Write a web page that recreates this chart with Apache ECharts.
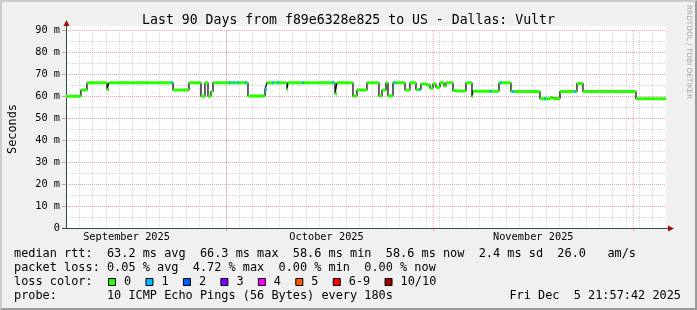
<!DOCTYPE html>
<html>
<head>
<meta charset="utf-8">
<script src="https://cdn.jsdelivr.net/npm/echarts@6/dist/echarts.min.js"></script>
<style>
html,body{margin:0;padding:0;background:#f0f0f0;}
#wrap{position:relative;width:697px;height:310px;}
#chart{position:absolute;left:0;top:0;width:697px;height:310px;}
#frame{position:absolute;left:0;top:0;width:697px;height:310px;box-sizing:border-box;
  border-top:2px solid #cbcbcb;border-left:2px solid #cbcbcb;border-right:2px solid #999;border-bottom:2px solid #999;pointer-events:none;}
</style>
</head>
<body>
<div id="wrap"><div id="chart"></div><div id="frame"></div></div>
<script>
// ---- data ----
const chartTitle = 'Last 90 Days from f89e6328e825 to US - Dallas: Vultr';
const rangeStart = '2025-09-06 21:57:42';
const rangeEnd = '2025-12-05 21:57:42';
// start time of each median-RTT step (local time)
const stepTimes = ['2025-09-06 21:58','2025-09-09 03:36','2025-09-10 01:26','2025-09-13 01:26','2025-09-13 08:36',
 '2025-09-22 23:16','2025-09-25 08:36','2025-09-27 03:46','2025-09-27 18:16','2025-09-28 05:06',
 '2025-09-28 15:46','2025-09-28 23:06','2025-10-04 05:06','2025-10-06 18:16','2025-10-07 01:26',
 '2025-10-10 01:26','2025-10-10 05:06','2025-10-17 06:16','2025-10-17 13:26','2025-10-19 23:06',
 '2025-10-20 13:26','2025-10-22 01:26','2025-10-23 20:36','2025-10-24 07:26','2025-10-24 21:51',
 '2025-10-25 05:06','2025-10-25 23:06','2025-10-27 18:16','2025-10-28 12:16','2025-10-29 09:51',
 '2025-10-30 03:51','2025-10-30 21:51','2025-10-31 12:16','2025-10-31 23:06','2025-11-01 09:51',
 '2025-11-02 00:16','2025-11-02 14:36','2025-11-02 21:51','2025-11-03 23:06','2025-11-04 09:51',
 '2025-11-05 21:51','2025-11-06 19:26','2025-11-06 23:06','2025-11-10 20:36','2025-11-12 15:51',
 '2025-11-17 00:16','2025-11-18 12:16','2025-11-18 23:06','2025-11-20 00:16','2025-11-22 13:26',
 '2025-11-23 11:01','2025-12-01 09:51'];
// median RTT of each step, milliseconds
const medianRtt = [59.9,62.7,66.0,63.0,66.0, 62.7,66.0,59.9,66.0,59.9, 62.0,66.0,60.0,63.0,66.0,
 63.0,66.0,61.0,66.0,60.0, 62.7,66.0,60.0,62.7,66.0, 60.0,66.0,62.7,66.0,63.0,
 65.5,65.0,63.5,65.5,64.0, 66.0,64.5,66.0,62.5,62.3, 66.0,59.7,62.2,66.0,62.1,
 58.8,59.3,58.8,62.0,65.7, 62.0,58.8];
// short moments with 1/10 packets lost
const loss1Times = ['2025-09-22 19:36','2025-10-01 12:16','2025-10-02 02:36','2025-10-02 17:06','2025-10-03 21:36',
 '2025-10-06 21:36','2025-10-07 22:36','2025-10-08 17:36','2025-10-12 12:36','2025-10-16 22:36',
 '2025-10-26 06:06','2025-10-30 00:16','2025-11-09 15:36','2025-11-11 03:36','2025-11-12 22:36',
 '2025-11-17 18:06','2025-11-22 06:06'];
const monthStarts = ['2025-10-01 00:00','2025-11-01 00:00','2025-12-01 00:00'];
const monthLabelAt = ['2025-09-16 00:00','2025-10-16 00:00','2025-11-16 00:00'];
const monthLabels = ['September 2025','October 2025','November 2025'];
const yRange = [0, 90];
const legendLines = [
 'median rtt:  63.2 ms avg  66.3 ms max  58.6 ms min  58.6 ms now  2.4 ms sd  26.0   am/s',
 'packet loss: 0.05 % avg  4.72 % max  0.00 % min  0.00 % now',
 'loss color:',
 'probe:       10 ICMP Echo Pings (56 Bytes) every 180s'
];
const lossLabels = ['0','1','2','3','4','5','6-9','10/10'];
const lossColors = ['#26ff00','#00b8ff','#0059ff','#7e00ff','#ff00ff','#ff5500','#ff0000','#a10000'];
const dateStamp = 'Fri Dec  5 21:57:42 2025';
const watermark = 'RRDTOOL / TOBI OETIKER';

// ---- build ----
const DAY = 86400000;
const ms = s => new Date(s.replace(' ', 'T')).getTime();
const T0 = ms(rangeStart), T1 = ms(rangeEnd);
const T = stepTimes.map(ms);
const ends = T.slice(1).concat([T1]);
const blackData = T.map((t,i)=>[t, medianRtt[i]]).concat([[T1, medianRtt[medianRtt.length-1]]]);
const greenData = [];
T.forEach((t,i)=>{ greenData.push([t, medianRtt[i]],[ends[i], medianRtt[i]],[ends[i],'-']); });
const valueAt = t => { let v = medianRtt[0]; T.forEach((s,i)=>{ if (s <= t) v = medianRtt[i]; }); return v; };
const blueData = [];
loss1Times.map(ms).forEach(t=>{ const v = valueAt(t); blueData.push([t-3*3600000, v],[t+3*3600000, v],[t+3*3600000,'-']); });
const labelVals = monthLabelAt.map(ms);
const monthGridData = [];
monthStarts.map(ms).forEach(t=>{ monthGridData.push([t, yRange[0]],[t, yRange[1]],[t,'-']); });

const MONO = '"DejaVu Sans Mono", monospace';
const MGRID = 'rgba(215,90,90,0.55)';
const GRID = 'rgba(160,160,160,0.45)';
const CW = 7.154;

const graphics = [
  {type:'rect', shape:{x:66, y:26, width:600, height:202}, style:{fill:'#fff'}, z:-10, silent:true},
  {type:'line', shape:{x1:66.5, y1:30, x2:66.5, y2:24}, style:{stroke:'#2C4D43', lineWidth:1}, z:5},
  {type:'polygon', shape:{points:[[63.5,26],[69.5,26],[66.5,20]]}, style:{fill:'#a01010'}, z:5},
  {type:'line', shape:{x1:62, y1:228.5, x2:66, y2:228.5}, style:{stroke:'#2C4D43', lineWidth:1}, z:5},
  {type:'line', shape:{x1:666, y1:228.5, x2:669, y2:228.5}, style:{stroke:'#2C4D43', lineWidth:1}, z:5},
  {type:'polygon', shape:{points:[[668,225.5],[668,231.5],[674,228.5]]}, style:{fill:'#a01010'}, z:5},
  {type:'text', x:689, y:5, rotation:-Math.PI/2, style:{text:watermark, font:'7.3px "DejaVu Sans"', fill:'#a8a8a8', align:'left', verticalAlign:'middle'}},
];
const lineY = [254.3, 268.3, 282.3, 296];
legendLines.forEach((s,i)=>{
  graphics.push({type:'text', x:14, y:lineY[i], style:{text:s, font:'11.88px '+MONO, fill:'#000', align:'left', verticalAlign:'middle'}});
});
graphics.push({type:'text', x:681, y:lineY[3], style:{text:dateStamp, font:'11.88px '+MONO, fill:'#000', align:'right', verticalAlign:'middle'}});
let bx = 108;
lossLabels.forEach((lab,i)=>{
  graphics.push({type:'rect', shape:{x:bx+0.5, y:278.5, width:7, height:7}, style:{fill:lossColors[i], stroke:'#000', lineWidth:1}});
  graphics.push({type:'text', x:bx+16, y:lineY[2], style:{text:lab, font:'11.88px '+MONO, fill:'#000', align:'left', verticalAlign:'middle'}});
  bx = bx + 16 + (lab.length + 2) * CW;
});

const chart = echarts.init(document.getElementById('chart'), null, {renderer:'canvas'});
chart.setOption({
  animation:false,
  backgroundColor:'#f0f0f0',
  title:{text:chartTitle, left:'center', top:9, textStyle:{fontFamily:MONO, fontSize:13.2, fontWeight:'normal', color:'#000'}},
  grid:{left:66, right:31, top:30, bottom:82, containLabel:false, outerBoundsMode:'none'},
  xAxis:[
    {type:'value', min:T0, max:T1, position:'bottom',
     axisLine:{show:true, onZero:false, lineStyle:{color:'#2C4D43', width:1}},
     axisTick:{show:true, customValues:monthStarts.map(ms), length:3, lineStyle:{color:MGRID}},
     axisLabel:{customValues:labelVals, formatter:(v)=>{ const k = labelVals.indexOf(v); return k>=0?monthLabels[k]:''; },
       fontFamily:MONO, fontSize:10.3, color:'#000', margin:4},
     splitLine:{show:false}},
    {type:'value', min:T0, max:T1, interval:2*DAY, position:'top',
     axisLine:{show:false}, axisTick:{show:false}, axisLabel:{show:false},
     splitLine:{show:true, showMinLine:false, showMaxLine:false, lineStyle:{color:GRID, type:[1,1], width:1}}}
  ],
  yAxis:{type:'value', min:yRange[0], max:yRange[1], interval:10,
    name:'Seconds', nameLocation:'middle', nameGap:47, nameRotate:90,
    nameTextStyle:{fontFamily:MONO, fontSize:11.88, color:'#000'},
    axisLine:{show:true, lineStyle:{color:'#2C4D43', width:1}},
    axisTick:{show:true, length:4, lineStyle:{color:MGRID}},
    axisLabel:{formatter:(v)=> v===0 ? '0' : v+' m', fontFamily:MONO, fontSize:10.3, color:'#000', margin:6},
    splitLine:{show:true, showMinLine:false, lineStyle:{color:MGRID, type:[1,1], width:1}},
    minorTick:{show:false, splitNumber:2},
    minorSplitLine:{show:true, lineStyle:{color:GRID, type:[1,1], width:1}}},
  graphic:graphics,
  series:[
    {name:'month grid', type:'line', data:monthGridData, showSymbol:false, symbol:'none', z:1, silent:true, connectNulls:false,
     lineStyle:{color:'rgba(225,110,110,0.6)', type:[1,1], width:1, cap:'butt'}},
    {name:'median', type:'line', step:'end', data:blackData, showSymbol:false, symbol:'none', z:2,
     lineStyle:{color:'#111', width:1.3}, silent:true},
    {name:'loss 0', type:'line', data:greenData, showSymbol:false, symbol:'none', z:3, connectNulls:false,
     lineStyle:{color:lossColors[0], width:3, cap:'butt'}, silent:true},
    {name:'loss 1', type:'line', data:blueData, showSymbol:false, symbol:'none', z:4, connectNulls:false,
     lineStyle:{color:lossColors[1], width:3, cap:'butt'}, silent:true}
  ]
});
</script>
</body>
</html>
